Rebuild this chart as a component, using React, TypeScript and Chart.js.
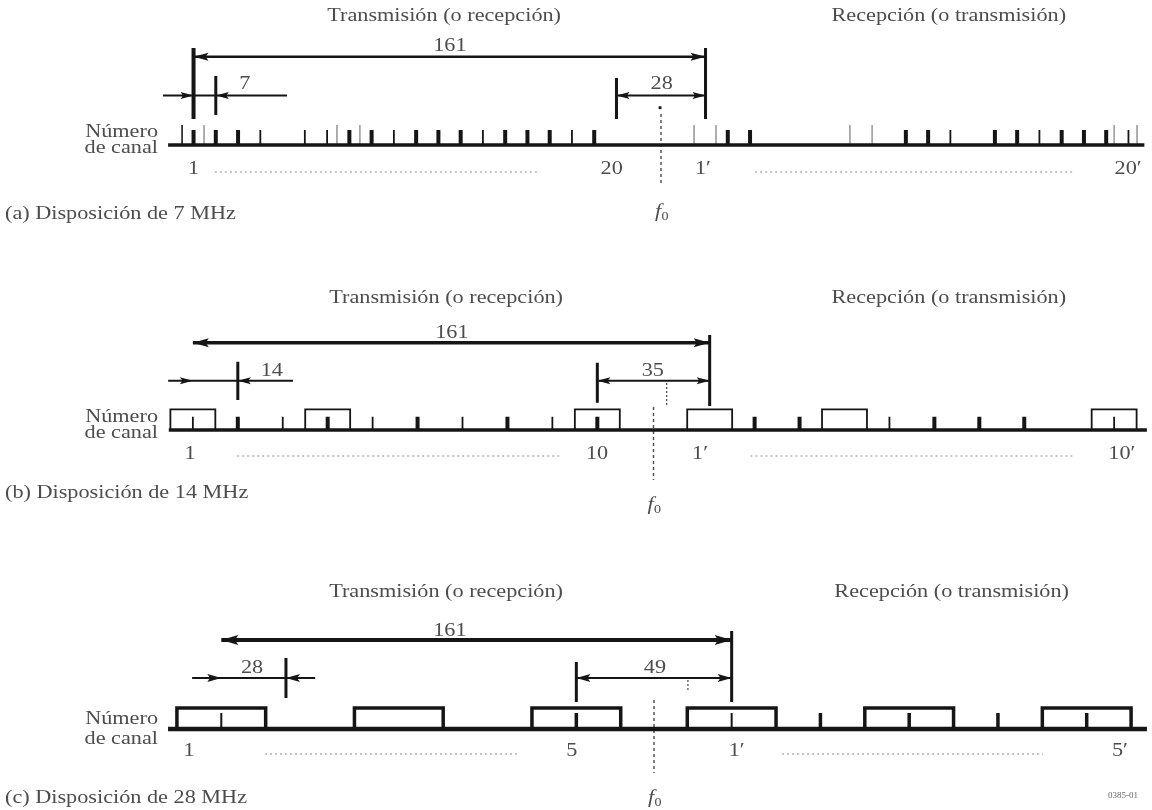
import React, { useEffect, useRef } from "react";
import { Chart, registerables } from "chart.js";

Chart.register(...registerables);

// ================== DATA (x values in MHz, relative to f0) ==================
const TITLES = ["Transmisión (o recepción)", "Recepción (o transmisión)"];

// ---- (a) 7 MHz arrangement ----
const A_AXIS = [-155, 152];
const A_THICK = [-147, -140, -133, -98, -91, -77, -70, -63, -49, -42, -35, -21, 21, 28, 77, 84, 105, 112, 126, 133, 140];
const A_THIN = [-126, -112, -105, -84, -56, -28, 91, 119, 147];
const A_TALL = [-150.6];
const A_GRAY = [-143.7, -101.9, -94.7, 10.4, 17.3, 59.4, 66.4, 142.5, 149.7];
const A_BOXES: number[] = [];
const A_VLINES = [-147, 14, -14, -140];
const A_DIM_LINES = [[-147, 14], [-156.6, -117.6], [-14, 14]];
const A_DIM_ROWS = [0, 1, 1];
const A_TIPS = [-147, 14, -147, -140, -14, 14];
const A_TIP_DIRS = [-1, 1, 1, -1, -1, 1];
const A_TIP_ROWS = [0, 0, 1, 1, 1, 1];
const A_SPAN_TEXT = ["161", "7", "28"];
const A_SPAN_X = [-66.4, -130.9, 0.2];
const A_CH_TEXT = ["1", "20", "1′", "20′"];
const A_CH_X = [-147, -15.5, 13.2, 146.9];
const A_DOTTED = [[-140.3, -38], [29.6, 130.2]];
const A_MARKS: number[] = [];
const A_DOTS = [-0.3];
const A_TITLE_X = [-68.2, 90.5];

// ---- (b) 14 MHz arrangement ----
const B_AXIS = [-151, 153.7];
const B_THICK = [-129.5, -101.5, -73.5, -45.5, -17.5, 31.5, 45.5, 87.5, 101.5, 115.5];
const B_THIN = [-143.5, -115.5, -87.5, -59.5, -31.5, 73.5, 143.5];
const B_BOXES = [-143.5, -101.5, -17.5, 17.5, 59.5, 143.5];
const B_BOX_WIDTH = 14;
const B_VLINES = [17.5, -129.5, -17.5];
const B_DIM_LINES = [[-143.5, 17.5], [-151.2, -112.3], [-17.5, 17.5]];
const B_DIM_ROWS = [0, 1, 1];
const B_TIPS = [-143.5, 17.5, -143.5, -129.5, -17.5, 17.5];
const B_TIP_DIRS = [-1, 1, 1, -1, -1, 1];
const B_TIP_ROWS = [0, 0, 1, 1, 1, 1];
const B_SPAN_TEXT = ["161", "14", "35"];
const B_SPAN_X = [-62.8, -118.9, -0.2];
const B_CH_TEXT = ["1", "10", "1′", "10′"];
const B_CH_X = [-144.4, -17.6, 14.5, 145.9];
const B_DOTTED = [[-129.7, -29.1], [30.2, 130.7]];
const B_MARKS = [4.1];
const B_TITLE_X = [-64.6, 92];

// ---- (c) 28 MHz arrangement ----
const C_AXIS = [-153.3, 155.5];
const C_THICK = [-24.5, 52.5, 80.5, 108.5, 136.5];
const C_THIN = [-136.5, 24.5];
const C_BOXES = [-136.5, -80.5, -24.5, 24.5, 80.5, 136.5];
const C_BOX_WIDTH = 28;
const C_VLINES = [24.5, -116.1, -24.5];
const C_DIM_LINES = [[-136.5, 24.5], [-145.7, -106.9], [-24.5, 24.5]];
const C_DIM_ROWS = [0, 1, 1];
const C_TIPS = [-136.5, 24.5, -136.5, -116.1, -24.5, 24.5];
const C_TIP_DIRS = [-1, 1, 1, -1, -1, 1];
const C_TIP_ROWS = [0, 0, 1, 1, 1, 1];
const C_SPAN_TEXT = ["161", "28", "49"];
const C_SPAN_X = [-64.4, -126.8, 0.3];
const C_CH_TEXT = ["1", "5", "1′", "5′"];
const C_CH_X = [-146.7, -25.9, 26.1, 147];
const C_DOTTED = [[-122.7, -43.2], [40.4, 122.7]];
const C_MARKS = [10.7];
const C_TITLE_X = [-65.6, 93.9];

// ================== LAYOUT & STYLE ==================
const W = 1152;
const PANEL_H = 270;
const FONT = '"Liberation Serif", "DejaVu Serif", "Times New Roman", serif';
const INK = "#151515";
const TEXT = "#4d4d4d";
const GRAY = "#a6a6a6";
const STRETCH = 1.17;

type Layout = {
  f0px: number; pxPerMHz: number;
  titleY: number; rowY: number[]; rowW: number[]; headLen: number[]; headHW: number[];
  spanTextY: number[]; vl: number[][]; markY: number[]; dotY: number;
  f0Line: number[]; f0LabelY: number; axisY: number; axisW: number;
  tickTop: number; tallTop: number; tickW: number[]; boxTop: number; boxLW: number;
  chLabelY: number; dottedY: number; numY: number; canalY: number; captionY: number;
};

const LAYOUT_A: Layout = {
  f0px: 661, pxPerMHz: 3.18,
  titleY: 16, rowY: [56.7, 95.5], rowW: [2.5, 2], headLen: [15, 13], headHW: [4, 3.5],
  spanTextY: [46, 84], vl: [[48, 119, 4], [48, 119, 3], [78, 119, 3], [76, 115, 3]],
  markY: [0, 0], dotY: 107.7, f0Line: [114, 186], f0LabelY: 213,
  axisY: 145, axisW: 3.5, tickTop: 130, tallTop: 125, tickW: [4, 1.8], boxTop: 0, boxLW: 0,
  chLabelY: 169, dottedY: 172, numY: 132, canalY: 148, captionY: 214,
};
const LAYOUT_B: Layout = {
  f0px: 653.5, pxPerMHz: 3.21,
  titleY: 28, rowY: [72.7, 110.7], rowW: [3.5, 2], headLen: [16, 13], headHW: [4.5, 3.5],
  spanTextY: [63, 101], vl: [[65, 136, 3], [91.7, 130, 3], [92.7, 132.7, 3]],
  markY: [113, 135], dotY: 0, f0Line: [137, 210], f0LabelY: 236,
  axisY: 160, axisW: 3.5, tickTop: 146.7, tallTop: 0, tickW: [4, 1.8], boxTop: 139.3, boxLW: 1.8,
  chLabelY: 184, dottedY: 186, numY: 147, canalY: 163, captionY: 223,
};
const LAYOUT_C: Layout = {
  f0px: 654, pxPerMHz: 3.17,
  titleY: 52, rowY: [100, 138], rowW: [4, 2], headLen: [17, 14], headHW: [5, 4],
  spanTextY: [91, 128], vl: [[91, 162, 3], [118, 158, 3], [122, 162, 3]],
  markY: [140, 152], dotY: 0, f0Line: [160, 233], f0LabelY: 259,
  axisY: 189, axisW: 4.5, tickTop: 173, tallTop: 0, tickW: [3.5, 2], boxTop: 168, boxLW: 3.5,
  chLabelY: 211, dottedY: 214, numY: 179, canalY: 199, captionY: 258,
};

type Spec = {
  id: string; caption: string; code?: string; layout: Layout;
  axis: number[]; thick: number[]; thin: number[]; tall: number[]; gray: number[];
  boxes: number[]; boxWidth: number; vlines: number[];
  dimLines: number[][]; dimRows: number[];
  tips: number[]; tipDirs: number[]; tipRows: number[];
  spanText: string[]; spanX: number[]; chText: string[]; chX: number[];
  dotted: number[][]; marks: number[]; dots: number[]; titleX: number[];
};

const PANELS: Spec[] = [
  {
    id: "a", caption: "(a) Disposición de 7 MHz", layout: LAYOUT_A,
    axis: A_AXIS, thick: A_THICK, thin: A_THIN, tall: A_TALL, gray: A_GRAY,
    boxes: A_BOXES, boxWidth: 0, vlines: A_VLINES, dimLines: A_DIM_LINES, dimRows: A_DIM_ROWS,
    tips: A_TIPS, tipDirs: A_TIP_DIRS, tipRows: A_TIP_ROWS,
    spanText: A_SPAN_TEXT, spanX: A_SPAN_X, chText: A_CH_TEXT, chX: A_CH_X,
    dotted: A_DOTTED, marks: A_MARKS, dots: A_DOTS, titleX: A_TITLE_X,
  },
  {
    id: "b", caption: "(b) Disposición de 14 MHz", layout: LAYOUT_B,
    axis: B_AXIS, thick: B_THICK, thin: B_THIN, tall: [], gray: [],
    boxes: B_BOXES, boxWidth: B_BOX_WIDTH, vlines: B_VLINES, dimLines: B_DIM_LINES, dimRows: B_DIM_ROWS,
    tips: B_TIPS, tipDirs: B_TIP_DIRS, tipRows: B_TIP_ROWS,
    spanText: B_SPAN_TEXT, spanX: B_SPAN_X, chText: B_CH_TEXT, chX: B_CH_X,
    dotted: B_DOTTED, marks: B_MARKS, dots: [], titleX: B_TITLE_X,
  },
  {
    id: "c", caption: "(c) Disposición de 28 MHz", code: "0385-01", layout: LAYOUT_C,
    axis: C_AXIS, thick: C_THICK, thin: C_THIN, tall: [], gray: [],
    boxes: C_BOXES, boxWidth: C_BOX_WIDTH, vlines: C_VLINES, dimLines: C_DIM_LINES, dimRows: C_DIM_ROWS,
    tips: C_TIPS, tipDirs: C_TIP_DIRS, tipRows: C_TIP_ROWS,
    spanText: C_SPAN_TEXT, spanX: C_SPAN_X, chText: C_CH_TEXT, chX: C_CH_X,
    dotted: C_DOTTED, marks: C_MARKS, dots: [], titleX: C_TITLE_X,
  },
];

// ================== HELPERS ==================
type P = { x: number; y: number | null };
function seg(x0: number, y0: number, x1: number, y1: number): P[] {
  return [{ x: x0, y: y0 }, { x: x1, y: y1 }, { x: x1, y: null }];
}
function lineDs(data: P[], width: number, color: string, dash: number[] = []) {
  return {
    type: "scatter" as const,
    data,
    showLine: true,
    borderColor: color,
    backgroundColor: color,
    borderWidth: width,
    borderDash: dash,
    borderCapStyle: "butt" as const,
    borderJoinStyle: "miter" as const,
    pointRadius: 0,
    pointHoverRadius: 0,
    fill: false,
    tension: 0,
    spanGaps: false,
  };
}

function drawText(ctx: CanvasRenderingContext2D, s: string, x: number, y: number, align: CanvasTextAlign, size = 19, color = TEXT, italic = false) {
  ctx.save();
  ctx.translate(x, y);
  ctx.scale(STRETCH, 1);
  ctx.font = `${italic ? "italic " : ""}${size}px ${FONT}`;
  ctx.fillStyle = color;
  ctx.textAlign = align;
  ctx.textBaseline = "middle";
  ctx.fillText(s, 0, 0);
  ctx.restore();
}

function buildConfig(spec: Spec): any {
  const L = spec.layout;
  const datasets: any[] = [];

  // axis
  datasets.push(lineDs(seg(spec.axis[0], L.axisY, spec.axis[1], L.axisY), L.axisW, INK));
  // ticks
  datasets.push(lineDs(spec.thick.flatMap((x) => seg(x, L.axisY, x, L.tickTop)), L.tickW[0], INK));
  datasets.push(lineDs(spec.thin.flatMap((x) => seg(x, L.axisY, x, L.tickTop)), L.tickW[1], INK));
  if (spec.tall.length) datasets.push(lineDs(spec.tall.flatMap((x) => seg(x, L.axisY, x, L.tallTop)), 1.8, "#333"));
  if (spec.gray.length) datasets.push(lineDs(spec.gray.flatMap((x) => seg(x, L.axisY, x, L.tallTop)), 1.8, GRAY));
  // channel boxes
  if (spec.boxes.length) {
    const pts: P[] = [];
    spec.boxes.forEach((c) => {
      const a = c - spec.boxWidth / 2, b = c + spec.boxWidth / 2;
      pts.push({ x: a, y: L.axisY }, { x: a, y: L.boxTop }, { x: b, y: L.boxTop }, { x: b, y: L.axisY }, { x: b, y: null });
    });
    datasets.push(lineDs(pts, L.boxLW, INK));
  }
  // vertical reference lines
  spec.vlines.forEach((x, i) => {
    const v = L.vl[i];
    datasets.push(lineDs(seg(x, v[0], x, v[1]), v[2], INK));
  });
  // dimension lines
  spec.dimLines.forEach((d, i) => {
    const r = spec.dimRows[i];
    datasets.push(lineDs(seg(d[0], L.rowY[r], d[1], L.rowY[r]), L.rowW[r], INK));
  });
  // small dashed marks
  if (spec.marks.length) datasets.push(lineDs(spec.marks.flatMap((x) => seg(x, L.markY[0], x, L.markY[1])), 1.3, "#555", [2, 2]));
  // dotted channel range
  datasets.push(lineDs(spec.dotted.flatMap((d) => seg(d[0], L.dottedY, d[1], L.dottedY)), 1.2, "#8c8c8c", [2, 3]));
  // f0 line
  datasets.push(lineDs(seg(0, L.f0Line[0], 0, L.f0Line[1]), 1.5, "#555", [3, 3]));
  // dot
  if (spec.dots.length) {
    datasets.push({
      type: "scatter",
      data: spec.dots.map((x) => ({ x, y: L.dotY })),
      pointStyle: "rect",
      pointRadius: 2,
      pointHoverRadius: 2,
      backgroundColor: INK,
      borderColor: INK,
      borderWidth: 0,
      showLine: false,
    });
  }

  const textPlugin = {
    id: "diagramText_" + spec.id,
    afterDatasetsDraw(chart: any) {
      const ctx: CanvasRenderingContext2D = chart.ctx;
      const xs = chart.scales.x;
      const ys = chart.scales.y;
      const px = (v: number) => xs.getPixelForValue(v);
      const py = (v: number) => ys.getPixelForValue(v);

      // arrowheads
      ctx.save();
      ctx.fillStyle = INK;
      spec.tips.forEach((t, i) => {
        const r = spec.tipRows[i];
        const d = spec.tipDirs[i];
        const len = L.headLen[r], hw = L.headHW[r];
        const tx = px(t), ty = py(L.rowY[r]);
        ctx.beginPath();
        ctx.moveTo(tx, ty);
        ctx.lineTo(tx - d * len, ty - hw);
        ctx.lineTo(tx - d * len * 0.8, ty);
        ctx.lineTo(tx - d * len, ty + hw);
        ctx.closePath();
        ctx.fill();
      });
      ctx.restore();

      // titles
      TITLES.forEach((t, i) => drawText(ctx, t, px(spec.titleX[i]), py(L.titleY), "center"));
      // span labels
      spec.spanText.forEach((t, i) => drawText(ctx, t, px(spec.spanX[i]), py(L.spanTextY[spec.dimRows[i]]), "center"));
      // channel labels
      spec.chText.forEach((t, i) => drawText(ctx, t, px(spec.chX[i]), py(L.chLabelY), "center"));
      // axis name
      const left = chart.chartArea.left;
      drawText(ctx, "Número", left + 158, py(L.numY), "right");
      drawText(ctx, "de canal", left + 158, py(L.canalY), "right");
      // caption
      drawText(ctx, spec.caption, left + 5, py(L.captionY), "left");
      // f0 label
      const fx = px(0), fy = py(L.f0LabelY);
      drawText(ctx, "f", fx - 3, fy - 1, "center", 19, TEXT, true);
      drawText(ctx, "0", fx + 4, fy + 4, "center", 12, TEXT);
      if (spec.code) {
        ctx.save();
        ctx.font = `9px ${FONT}`;
        ctx.fillStyle = "#666";
        ctx.textAlign = "right";
        ctx.textBaseline = "middle";
        ctx.fillText(spec.code, chart.chartArea.right - 14, py(L.captionY - 2));
        ctx.restore();
      }
    },
  };

  return {
    type: "scatter",
    data: { datasets },
    options: {
      animation: false,
      responsive: false,
      maintainAspectRatio: false,
      events: [],
      layout: { padding: 0, autoPadding: false },
      plugins: { legend: { display: false }, tooltip: { enabled: false }, title: { display: false } },
      scales: {
        x: { type: "linear", display: false, min: -L.f0px / L.pxPerMHz, max: (W - L.f0px) / L.pxPerMHz },
        y: { type: "linear", display: false, min: 0, max: PANEL_H, reverse: true },
      },
    },
    plugins: [textPlugin],
  };
}

function PanelChart({ spec }: { spec: Spec }) {
  const ref = useRef<HTMLCanvasElement | null>(null);
  useEffect(() => {
    if (!ref.current) return;
    const chart = new Chart(ref.current, buildConfig(spec));
    return () => chart.destroy();
  }, [spec]);
  return <canvas ref={ref} width={W} height={PANEL_H} style={{ display: "block", width: W, height: PANEL_H }} />;
}

export default function App() {
  useEffect(() => {
    document.body.style.margin = "0";
    document.body.style.background = "#ffffff";
  }, []);
  return (
    <div style={{ width: W, height: PANEL_H * 3, background: "#ffffff" }}>
      {PANELS.map((p) => (
        <PanelChart key={p.id} spec={p} />
      ))}
    </div>
  );
}
